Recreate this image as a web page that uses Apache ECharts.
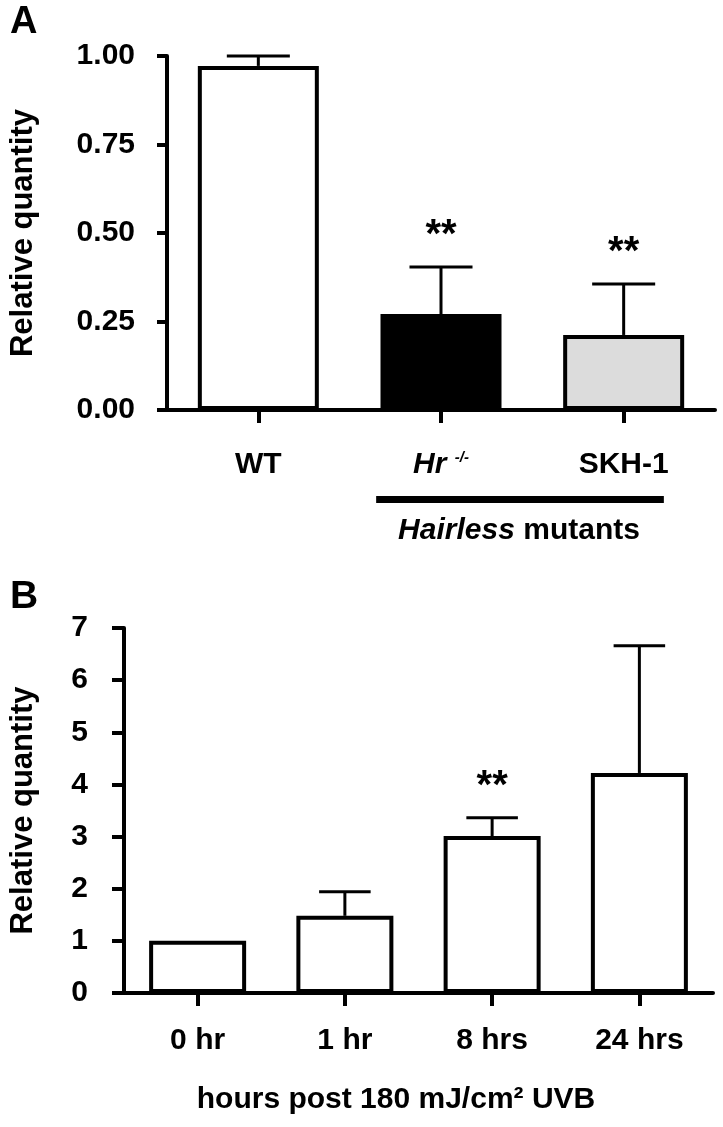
<!DOCTYPE html>
<html><head><meta charset="utf-8">
<script src="https://cdn.jsdelivr.net/npm/echarts@6/dist/echarts.min.js"></script>
<style>html,body{margin:0;padding:0;background:#fff}#c{width:723px;height:1127px}</style>
</head><body><div id="c"></div>
<script>
// ---- Panel A data ----
const catsA = ['WT', 'Hr', 'SKH-1'];
const valsA = [0.972, 0.271, 0.212];
const errA = [0.028, 0.133, 0.144];
const starsA = ['', '**', '**'];
const colorsA = ['#ffffff', '#000000', '#dcdcdc'];
// ---- Panel B data ----
const catsB = ['0 hr', '1 hr', '8 hrs', '24 hrs'];
const valsB = [1.0, 1.48, 3.01, 4.22];
const errB = [0, 0.46, 0.35, 2.44];
const starsB = ['', '', '**', ''];

const FF = '"Liberation Sans", Arial, sans-serif';
const FS = 30;

const chart = echarts.init(document.getElementById('c'), null, {renderer: 'canvas'});

function errSeries(xi, yi, vals, errs, stars, capFrac) {
  return {
    type: 'custom', xAxisIndex: xi, yAxisIndex: yi, z: 1,
    data: vals.map((v, i) => [i, v, v + errs[i]]),
    renderItem(params, api) {
      const x = api.value(0), v = api.value(1), top = api.value(2);
      const p0 = api.coord([x, v]);
      const p1 = api.coord([x, top]);
      const bw = api.size([1, 0])[0];
      const half = bw * capFrac / 2;
      const ch = [];
      if (top > v) {
        ch.push({type: 'line', shape: {x1: p0[0], y1: p0[1], x2: p1[0], y2: p1[1]}, style: {stroke: '#000', lineWidth: 3}});
        ch.push({type: 'line', shape: {x1: p1[0] - half, y1: p1[1], x2: p1[0] + half, y2: p1[1]}, style: {stroke: '#000', lineWidth: 3}});
      }
      const s = stars[params.dataIndex];
      if (s) {
        ch.push({type: 'text', x: p1[0], y: p1[1] - 31,
          style: {text: s, fontSize: 40, fontWeight: 'bold', fontFamily: FF, fill: '#000', align: 'center', verticalAlign: 'middle'}});
      }
      return {type: 'group', children: ch};
    }
  };
}

const axisLineStyle = {show: true, lineStyle: {color: '#000', width: 4}};
const labelStyle = {color: '#000', fontSize: FS, fontWeight: 'bold', fontFamily: FF};

const option = {
  animation: false,
  backgroundColor: '#fff',
  grid: [
    {left: 162, top: 56, right: 8, height: 354},
    {left: 120, top: 628, right: 10, height: 365}
  ],
  xAxis: [
    {type: 'category', gridIndex: 0, data: catsA,
      axisLine: axisLineStyle,
      axisTick: {show: true, alignWithLabel: true, length: 13, lineStyle: {color: '#000', width: 4}},
      axisLabel: Object.assign({}, labelStyle, {margin: 40, interval: 0,
        formatter: v => v === 'Hr' ? '{i|Hr} {s|-/-}' : v,
        rich: {
          i: {fontStyle: 'italic', fontWeight: 'bold', fontSize: FS, fontFamily: FF, color: '#000'},
          s: {fontStyle: 'italic', fontWeight: 'bold', fontSize: 15, fontFamily: FF, color: '#000', padding: [0, 0, 14, 0]}
        }})
    },
    {type: 'category', gridIndex: 1, data: catsB,
      axisLine: axisLineStyle,
      axisTick: {show: true, alignWithLabel: true, length: 13, lineStyle: {color: '#000', width: 4}},
      axisLabel: Object.assign({}, labelStyle, {margin: 33, interval: 0})
    }
  ],
  yAxis: [
    {type: 'value', gridIndex: 0, min: 0, max: 1, interval: 0.25,
      axisLine: axisLineStyle,
      axisTick: {show: true, length: 10, lineStyle: {color: '#000', width: 4}},
      splitLine: {show: false},
      axisLabel: Object.assign({}, labelStyle, {margin: 32, formatter: v => v.toFixed(2)}),
      name: 'Relative quantity', nameLocation: 'middle', nameGap: 128,
      nameTextStyle: {color: '#000', fontSize: 31, fontWeight: 'bold', fontFamily: FF}
    },
    {type: 'value', gridIndex: 1, min: 0, max: 7, interval: 1,
      axisLine: axisLineStyle,
      axisTick: {show: true, length: 12, lineStyle: {color: '#000', width: 4}},
      splitLine: {show: false},
      axisLabel: Object.assign({}, labelStyle, {margin: 36}),
      name: 'Relative quantity', nameLocation: 'middle', nameGap: 85,
      nameTextStyle: {color: '#000', fontSize: 31, fontWeight: 'bold', fontFamily: FF}
    }
  ],
  series: [
    {type: 'bar', xAxisIndex: 0, yAxisIndex: 0, barWidth: 121, z: 2,
      data: valsA.map((v, i) => ({value: v, itemStyle: {color: colorsA[i]}})),
      itemStyle: {borderColor: '#000', borderWidth: 4}},
    errSeries(0, 0, valsA, errA, starsA, 0.345),
    {type: 'bar', xAxisIndex: 1, yAxisIndex: 1, barWidth: 97, z: 2,
      data: valsB,
      itemStyle: {color: '#fff', borderColor: '#000', borderWidth: 4}},
    errSeries(1, 1, valsB, errB, starsB, 0.35)
  ]
};
chart.setOption(option);

// annotations positioned from the category axis
const xHr = chart.convertToPixel({xAxisIndex: 0}, 1);
const xSk = chart.convertToPixel({xAxisIndex: 0}, 2);
const band = xSk - xHr;
const x1 = xHr - 0.355 * band, x2 = xSk + 0.22 * band;
chart.setOption({
  graphic: [
    {type: 'text', left: 10, top: 4, style: {text: 'A', fontSize: 38, fontWeight: 'bold', fontFamily: FF, fill: '#000'}},
    {type: 'text', left: 10, top: 578, style: {text: 'B', fontSize: 39, fontWeight: 'bold', fontFamily: FF, fill: '#000'}},
    {type: 'rect', shape: {x: x1, y: 496, width: x2 - x1, height: 7}, style: {fill: '#000'}},
    {type: 'text', x: (x1 + x2) / 2 - 1, y: 531,
      style: {text: '{i|Hairless} mutants', fontSize: FS, fontWeight: 'bold', fontFamily: FF, fill: '#000', align: 'center', verticalAlign: 'middle',
        rich: {i: {fontStyle: 'italic', fontWeight: 'bold', fontSize: FS, fontFamily: FF, fill: '#000'}}}},
    {type: 'text', x: 396, y: 1100,
      style: {text: 'hours post 180 mJ/cm² UVB', fontSize: FS, fontWeight: 'bold', fontFamily: FF, fill: '#000', align: 'center', verticalAlign: 'middle'}}
  ]
});
</script>
</body></html>
